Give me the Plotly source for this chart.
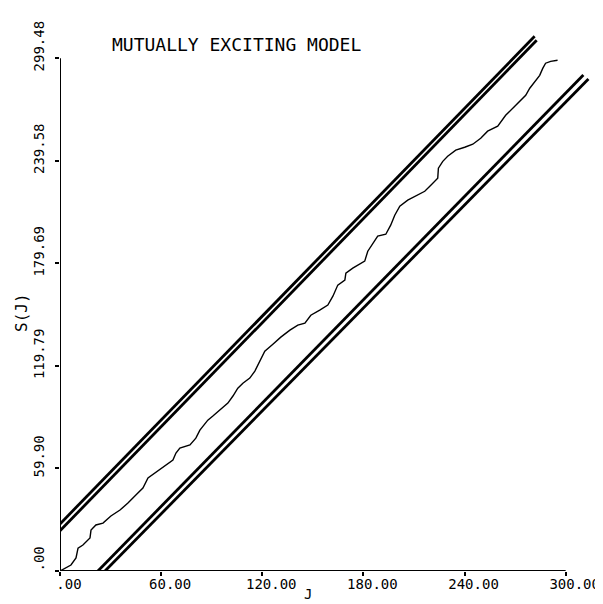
import plotly.graph_objects as go

# ---- data ----
walk_x = [0, 6.5, 9.5, 10.7, 13.6, 17.8, 18.4, 21.3, 25.5, 30.2, 35.6, 40.3, 46.2, 49.2, 52.2,
          58.1, 62.8, 67.0, 68.8, 71.1, 77.1, 80.6, 83.0, 87.7, 90.7, 94.9, 99.6, 102.6, 105.5,
          108.5, 112.6, 115.6, 118.6, 121.5, 126.3, 131.0, 136.4, 141.1, 145.3, 148.8, 154.1,
          158.9, 161.9, 164.8, 169.0, 169.6, 173.7, 180.8, 182.6, 185.6, 188.5, 193.3, 196.2,
          198.6, 201.6, 206.3, 211.1, 216.4, 220.0, 224.1, 224.5, 227.1, 230.0, 234.8, 240.1,
          244.9, 249.6, 253.7, 259.7, 264.4, 269.8, 272.7, 276.3, 278.7, 281.6, 284.6, 286.4,
          288.1, 291.1, 295.2]
walk_y = [0, 3.5, 7.6, 13.4, 15.2, 19.3, 23.9, 26.9, 28.0, 32.1, 35.6, 39.7, 45.5, 48.5, 54.3,
          58.4, 61.9, 64.8, 68.9, 71.8, 73.6, 77.6, 82.3, 88.1, 90.5, 94.0, 98.1, 102.2, 106.8,
          109.7, 112.7, 116.8, 122.6, 128.4, 132.5, 136.6, 140.7, 143.6, 144.8, 149.4, 152.4,
          155.3, 160.5, 167.0, 169.9, 174.0, 176.9, 181.0, 186.8, 191.5, 195.6, 196.7, 202.0,
          207.8, 213.1, 216.6, 218.9, 221.8, 225.3, 229.4, 235.3, 239.3, 242.3, 245.8, 247.5,
          249.3, 252.8, 256.9, 259.8, 266.2, 271.5, 274.4, 277.9, 282.0, 286.0, 289.5, 293.6,
          296.6, 297.7, 298.3]

upper1_x = [0, 281.6]
upper1_y = [27.5, 312.3]
upper2_x = [0, 282.8]
upper2_y = [23.5, 310.0]
lower1_x = [22.5, 310.5]
lower1_y = [0, 289.7]
lower2_x = [26.7, 313.5]
lower2_y = [0, 287.4]

x_tickvals = [0, 60, 120, 180, 240, 300]
x_ticktext = [".00", "60.00", "120.00", "180.00", "240.00", "300.00"]
y_tickvals = [0, 59.90, 119.79, 179.69, 239.58, 299.48]
y_ticktext = [".00", "59.90", "119.79", "179.69", "239.58", "299.48"]

title_text = "MUTUALLY EXCITING MODEL"
x_label = "J"
y_label = "S(J)"

FONT = "DejaVu Sans Mono"

fig = go.Figure()
for bx, by in [(upper1_x, upper1_y), (upper2_x, upper2_y), (lower1_x, lower1_y), (lower2_x, lower2_y)]:
    fig.add_trace(go.Scatter(x=bx, y=by, mode="lines", line=dict(color="black", width=2.8),
                             showlegend=False, hoverinfo="skip"))
fig.add_trace(go.Scatter(x=walk_x, y=walk_y, mode="lines", line=dict(color="black", width=1.4),
                         showlegend=False))

# axis lines spanning only the labelled range
fig.add_shape(type="line", x0=0, x1=x_tickvals[-1], y0=0, y1=0, xref="x", yref="y",
              line=dict(color="black", width=2))
fig.add_shape(type="line", x0=0, x1=0, y0=0, y1=y_tickvals[-1], xref="x", yref="y",
              line=dict(color="black", width=2))

fig.update_xaxes(range=[0, 318], tickvals=x_tickvals, ticktext=x_ticktext, showgrid=False,
                 zeroline=False, showline=False, ticks="outside", ticklen=4, tickwidth=2,
                 tickcolor="black", ticklabelshift=9, ticklabelstandoff=-4,
                 tickfont=dict(family=FONT, size=14, color="black"))
fig.update_yaxes(range=[0, 316], tickvals=y_tickvals, ticktext=y_ticktext, showgrid=False,
                 zeroline=False, showline=False, ticks="outside", ticklen=4, tickwidth=2,
                 tickcolor="black", tickangle=-90, ticklabelshift=-10, ticklabelstandoff=5,
                 tickfont=dict(family=FONT, size=14, color="black"))

fig.add_annotation(text=title_text, xref="paper", yref="paper", x=(102 - 52) / 536,
                   y=(563 - 36) / 541, xanchor="left", yanchor="middle", showarrow=False,
                   font=dict(family=FONT, size=18, color="black"))
fig.add_annotation(text=x_label, xref="paper", yref="paper", x=(300 - 52) / 536,
                   y=-(586 - 563) / 541, xanchor="center", yanchor="middle", showarrow=False,
                   font=dict(family=FONT, size=14, color="black"))
fig.add_annotation(text=y_label, xref="paper", yref="paper", x=-(52 - 13) / 536,
                   y=(563 - 305) / 541, xanchor="center", yanchor="middle", showarrow=False,
                   textangle=-90, font=dict(family=FONT, size=16, color="black"))

fig.update_layout(width=603, height=604, margin=dict(l=52, r=15, t=22, b=41),
                  plot_bgcolor="white", paper_bgcolor="white")
fig.write_html("out.html")
